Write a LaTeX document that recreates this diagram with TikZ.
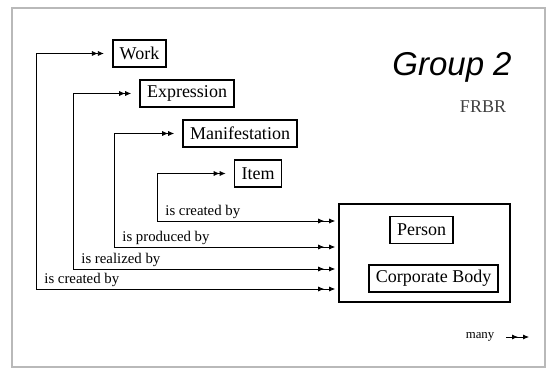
\documentclass[tikz,border=0pt]{standalone}
\usepackage{fontspec}
\setmainfont{Liberation Serif}
\setsansfont{Liberation Sans}
\usepackage{tikz}
\usetikzlibrary{arrows.meta,positioning,calc}
\newcommand{\boxh}{13.5pt}
\tikzset{
    framesty/.style={draw=gray!55, line width=1pt},
    entsty/.style={draw, thick, rectangle, minimum height=\boxh, inner xsep=3.5pt, inner ysep=0pt, font=\fontsize{9}{10}\selectfont},
    grpsty/.style={draw, thick, rectangle, minimum width=85.5pt, minimum height=49pt},
    relsty/.style={arrows={{Latex[length=3pt,width=2.5pt,sep=2.5pt]Latex[length=3pt,width=2.5pt]}-{Latex[length=3pt,width=2.5pt,sep=2.5pt]Latex[length=3pt,width=2.5pt]}}, shorten <=1.5pt, shorten >=1.5pt},
    lblsty/.style={anchor=south west, inner xsep=4pt, inner ysep=0.8pt, font=\fontsize{7.4}{8}\selectfont},
}

\begin{document}
\begin{tikzpicture}[x=0.5pt, y=0.5pt]
\useasboundingbox (0,0) rectangle (555,369);
\draw[framesty] (12,2) rectangle (545,361);

% entities
\node[entsty] (work) at (139.5,315.5) {Work};
\node[entsty] (expr) at (187,275.5) {Expression};
\node[entsty] (mani) at (240,235.5) {Manifestation};
\node[entsty] (item) at (258,195.5) {Item};

\node[grpsty] (grp) at (424.5,116) {};
\node[entsty] (pers) at (421.5,139) {Person};
\node[entsty] (corp) at (433.5,90.5) {Corporate Body};

% corners
\coordinate (cw) at (36,80);
\coordinate (ce) at (73,100);
\coordinate (cm) at (114,122);
\coordinate (ci) at (157,148);

\draw[relsty] (work.west) -| (cw) node[lblsty]{is created by} -- (cw -| grp.west);
\draw[relsty] (expr.west) -| (ce) node[lblsty]{is realized by} -- (ce -| grp.west);
\draw[relsty] (mani.west) -| (cm) node[lblsty]{is produced by} -- (cm -| grp.west);
\draw[relsty] (item.west) -| (ci) node[lblsty]{is created by} -- (ci -| grp.west);

% title
\node[font=\sffamily\itshape\fontsize{16.5}{18}\selectfont] (title) at (452,302) {Group 2};
\node[font=\fontsize{9}{10}\selectfont, text=black!75] (frbr) at (483,262) {FRBR};

% legend
\node[font=\fontsize{6.4}{7}\selectfont] (many) at (480,32) {many};
\coordinate (manyend) at (529,32);
\draw[arrows={-Latex[length=3pt,width=2.5pt,sep=2.5pt]Latex[length=3pt,width=2.5pt]}] ([xshift=2.5pt]many.east) -- (manyend);
\end{tikzpicture}
\end{document}
